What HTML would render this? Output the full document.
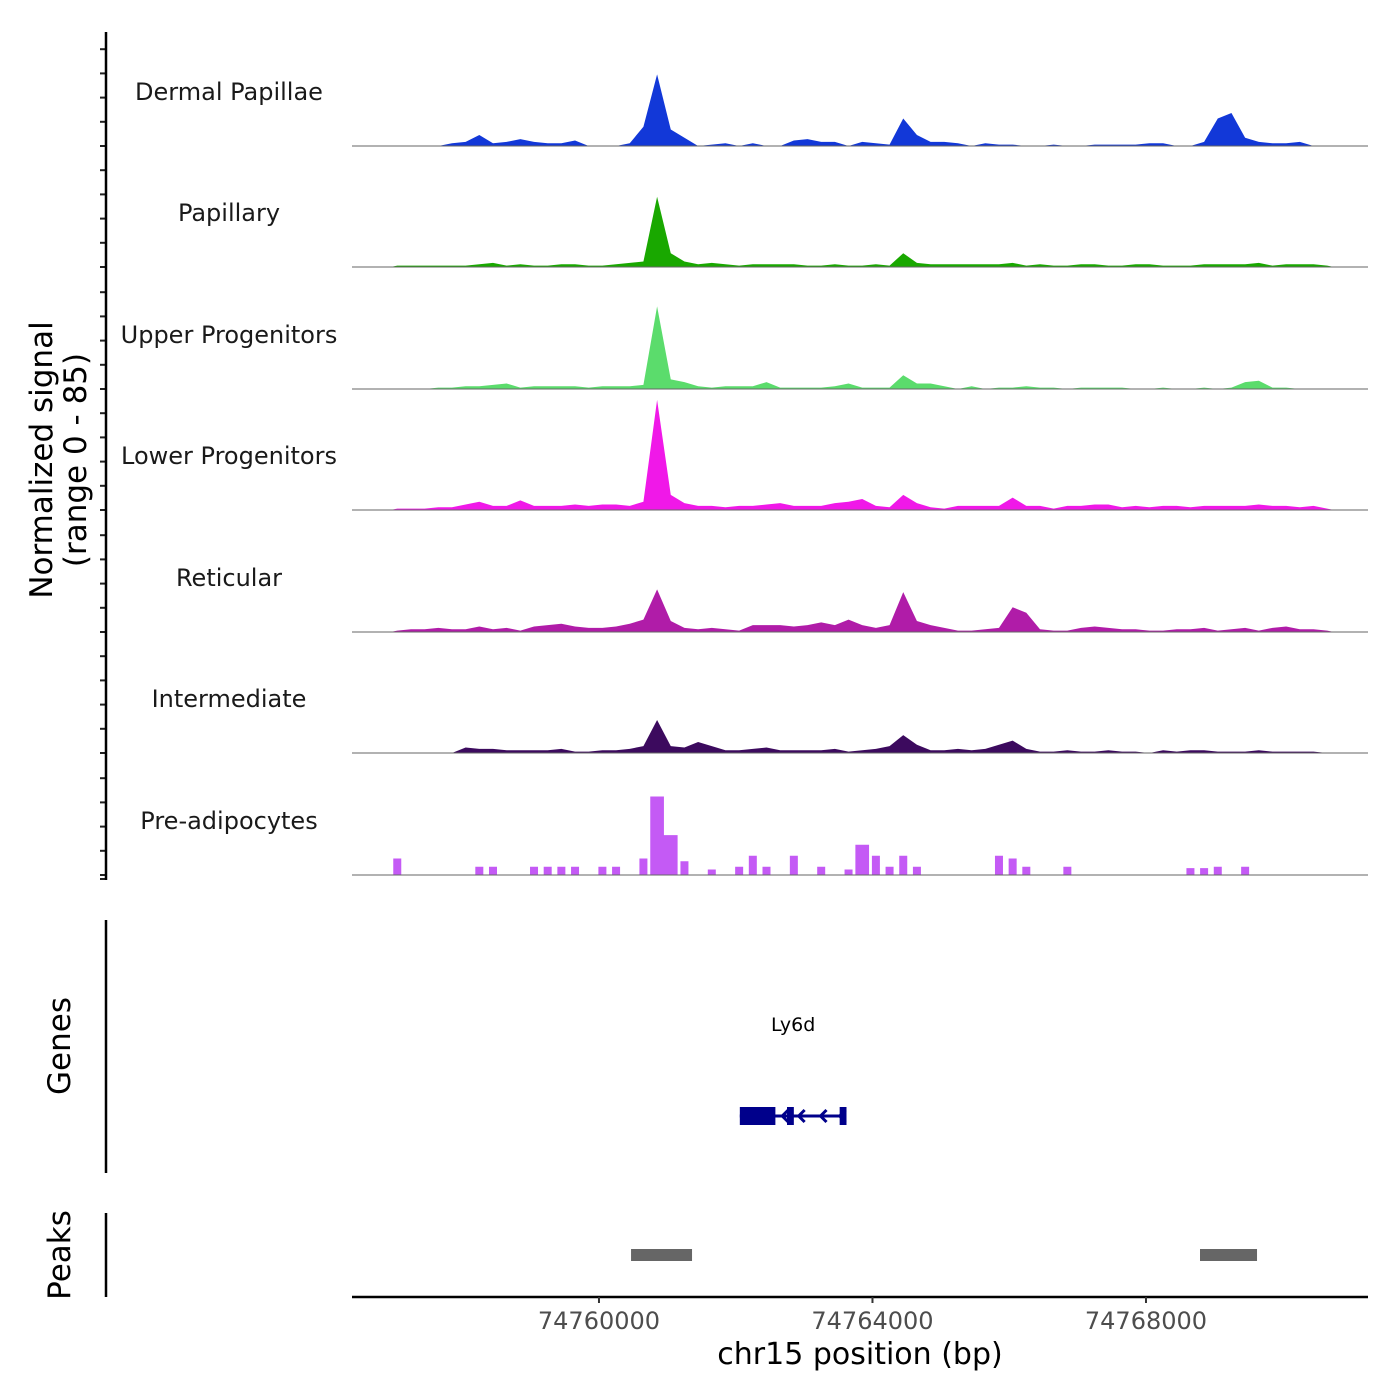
<!DOCTYPE html>
<html><head><meta charset="utf-8">
<style>
html,body{margin:0;padding:0;background:#fff;}
svg{display:block;font-family:"DejaVu Sans","Liberation Sans",sans-serif;}
</style></head>
<body>
<svg id="chart" width="1400" height="1400" viewBox="0 0 1400 1400" xmlns="http://www.w3.org/2000/svg">
<g id="tracks"></g>
<g id="axes"></g>
</svg>
<script>
// ---- data ----
const binStart = 74757050;   // bp, center of first bin
const binSize = 200;         // bp
const trackNames = ["Dermal Papillae","Papillary","Upper Progenitors","Lower Progenitors","Reticular","Intermediate","Pre-adipocytes"];
const trackColors = ["#1238d8","#19a800","#5bdc6c","#f018e8","#b01ca8","#3c0a5e","#c45af5"];
const dermalPapillae = [0,0,0,0,2,3,8,2,3,5,3,2,2,4,0,0,0,2,14,52,12,6,0,1,2,0,2,0,0,4,5,3,3,0,3,2,1,20,8,3,3,2,0,2,1,1,0,0,1,0,0,1,1,1,1,2,2,0,0,3,20,24,6,3,2,2,3,0,0];
const papillary = [1,1,1,1,1,1,2,3,1,2,1,1,2,2,1,1,2,3,4,51,10,4,2,3,2,1,2,2,2,2,1,1,2,1,1,2,1,10,3,2,2,2,2,2,2,3,1,2,1,1,2,2,1,1,2,2,1,1,1,2,2,2,2,3,1,2,2,2,1];
const upperProgenitors = [0,0,0,1,1,2,2,3,4,1,2,2,2,2,1,2,2,2,3,60,7,5,2,1,2,2,2,5,1,1,1,1,2,4,1,1,1,10,4,4,2,0,2,0,1,1,2,1,1,0,1,1,1,1,0,0,1,0,0,1,0,1,5,6,1,1,0,0,0];
const lowerProgenitors = [1,1,1,2,2,4,6,3,3,7,3,3,3,4,3,4,4,3,6,80,11,5,3,3,2,3,3,4,5,3,3,3,5,6,8,3,2,11,5,2,1,3,3,3,3,9,3,3,1,3,3,4,4,2,3,2,3,3,2,3,3,3,3,4,3,3,2,3,1];
const reticular = [1,2,2,3,2,2,4,2,3,1,4,5,6,4,3,3,4,6,9,31,8,3,2,3,2,1,5,5,5,4,5,7,5,9,5,3,5,29,8,5,3,1,1,2,3,18,14,2,1,1,3,4,3,2,2,1,1,2,2,3,1,2,3,1,3,4,2,2,1];
const intermediate = [0,0,0,0,0,4,3,3,2,2,2,2,3,1,1,2,2,3,5,24,5,4,8,5,2,2,3,4,2,2,2,2,3,1,2,3,5,13,6,2,2,3,2,3,6,9,3,1,1,2,1,1,2,1,1,0,2,1,2,2,1,1,1,2,1,1,1,1,0];
const preAdipocytes = [12,0,0,0,0,0,6,6,0,0,6,6,6,6,0,6,6,0,12,57,29,10,0,4,0,6,14,6,0,14,0,6,0,4,22,14,6,14,6,0,0,0,0,0,14,12,6,0,0,6,0,0,0,0,0,0,0,0,5,5,6,0,6,0,0,0,0,0,0];
const seriesValues = [dermalPapillae,papillary,upperProgenitors,lowerProgenitors,reticular,intermediate,preAdipocytes];
const stepTracks = [false,false,false,false,false,false,true];
const xTicks = [74760000,74764000,74768000];
const xTickLabels = ["74760000","74764000","74768000"];
const geneName = "Ly6d";
const geneRange = [74762060,74763620];
const geneExons = [[74762060,74762580],[74762750,74762850],[74763520,74763620]];
const geneArrows = [74762680,74762920,74763240,74763520];
const peakRanges = [[74760469,74761361],[74768790,74769624]];
const yMax = 85;

// ---- scales ----
const X0=352, X1=1368, BP0=74756388, BP1=74771247;
function xs(bp){return X0+(bp-BP0)/(BP1-BP0)*(X1-X0);}
const baselines=[146,267,389,510,632,753,875];
const trackH=117;
function ys(v,b){return b-v/yMax*trackH;}

const NS="http://www.w3.org/2000/svg";
function mk(tag,attrs,parent){const e=document.createElementNS(NS,tag);for(const k in attrs)e.setAttribute(k,attrs[k]);parent.appendChild(e);return e;}
const T=document.getElementById('tracks'), A=document.getElementById('axes');

seriesValues.forEach((vals,t)=>{
  const b=baselines[t];
  let pts=[];
  if(stepTracks[t]){
    vals.forEach((v,i)=>{
      const xa=xs(binStart+i*binSize-binSize/2), xb=xs(binStart+i*binSize+binSize/2);
      const c=(xa+xb)/2, hw=(v>0 && v<20)?4:(xb-xa)/2;
      pts.push(xa+","+b);
      pts.push((c-hw)+","+b);
      pts.push((c-hw)+","+ys(v,b));
      pts.push((c+hw)+","+ys(v,b));
      pts.push((c+hw)+","+b);
      pts.push(xb+","+b);
    });
  } else {
    pts.push(xs(binStart-binSize/2)+","+b);
    vals.forEach((v,i)=>{pts.push(xs(binStart+i*binSize)+","+ys(v,b));});
    pts.push(xs(binStart+(vals.length-1)*binSize+binSize/2)+","+b);
  }
  const p=mk('polygon',{points:pts.join(" "),fill:trackColors[t]},T);
  
  
  const l=mk('line',{x1:X0,x2:X1,y1:b,y2:b,stroke:"#666","stroke-width":1},T);
  
  
  const tx=mk('text',{x:229,y:b-46,"text-anchor":"middle","font-size":24,fill:"#1a1a1a"},T);
  tx.textContent=trackNames[t];
  
  
  for(let k=0;k<5;k++){
    const yy=b-k*121/5;
    const tk=mk('line',{x1:100,x2:106,y1:yy,y2:yy,stroke:"#222","stroke-width":2},A);
    
    
  }
});
const tk0=mk('line',{x1:100,x2:106,y1:879,y2:879,stroke:"#222","stroke-width":2},A);



[[32,880],[920,1173],[1213,1297]].forEach(r=>{
  const l=mk('line',{x1:106,x2:106,y1:r[0],y2:r[1],stroke:"#000","stroke-width":2.5},A);
  
  
});
const yt=mk('text',{transform:"translate(52,460) rotate(-90)","text-anchor":"middle","font-size":31,fill:"#000"},A);


const t1=mk('tspan',{x:0,dy:0},yt); t1.textContent="Normalized signal";
const t2=mk('tspan',{x:0,dy:34},yt); t2.textContent="(range 0 - 85)";
const gt=mk('text',{transform:"translate(70,1046) rotate(-90)","text-anchor":"middle","font-size":31,fill:"#000"},A);
gt.textContent="Genes";


const pt=mk('text',{transform:"translate(70,1255) rotate(-90)","text-anchor":"middle","font-size":31,fill:"#000"},A);
pt.textContent="Peaks";



const gl=mk('text',{x:xs((geneRange[0]+geneRange[1])/2),y:1031,"text-anchor":"middle","font-size":19,fill:"#000"},A);
gl.textContent=geneName;


const gline=mk('line',{x1:xs(geneRange[0]),x2:xs(geneRange[1]),y1:1116,y2:1116,stroke:"#00008b","stroke-width":3},A);


geneExons.forEach(e=>{
  const r=mk('rect',{x:xs(e[0]),y:1107,width:xs(e[1])-xs(e[0]),height:18,fill:"#00008b"},A);
  
  
});
geneArrows.forEach(a=>{
  const x=xs(a);
  const p=mk('polyline',{points:(x+6)+",1110 "+x+",1116 "+(x+6)+",1122",fill:"none",stroke:"#00008b","stroke-width":3},A);
  
  
});
peakRanges.forEach(r=>{
  const p=mk('rect',{x:xs(r[0]),y:1249,width:xs(r[1])-xs(r[0]),height:12,fill:"#666"},A);
  
  
});
const xa=mk('line',{x1:X0,x2:X1,y1:1297,y2:1297,stroke:"#000","stroke-width":2.5},A);


xTicks.forEach((v,i)=>{
  const x=xs(v);
  const tl=mk('line',{x1:x,x2:x,y1:1297,y2:1303,stroke:"#333","stroke-width":2},A);
  
  
  const tt=mk('text',{x:x,y:1329,"text-anchor":"middle","font-size":24,fill:"#4d4d4d"},A);
  tt.textContent=xTickLabels[i];
  
  
});
const xt=mk('text',{x:860,y:1364,"text-anchor":"middle","font-size":30,fill:"#000"},A);
xt.textContent="chr15 position (bp)";


</script>
</body></html>
